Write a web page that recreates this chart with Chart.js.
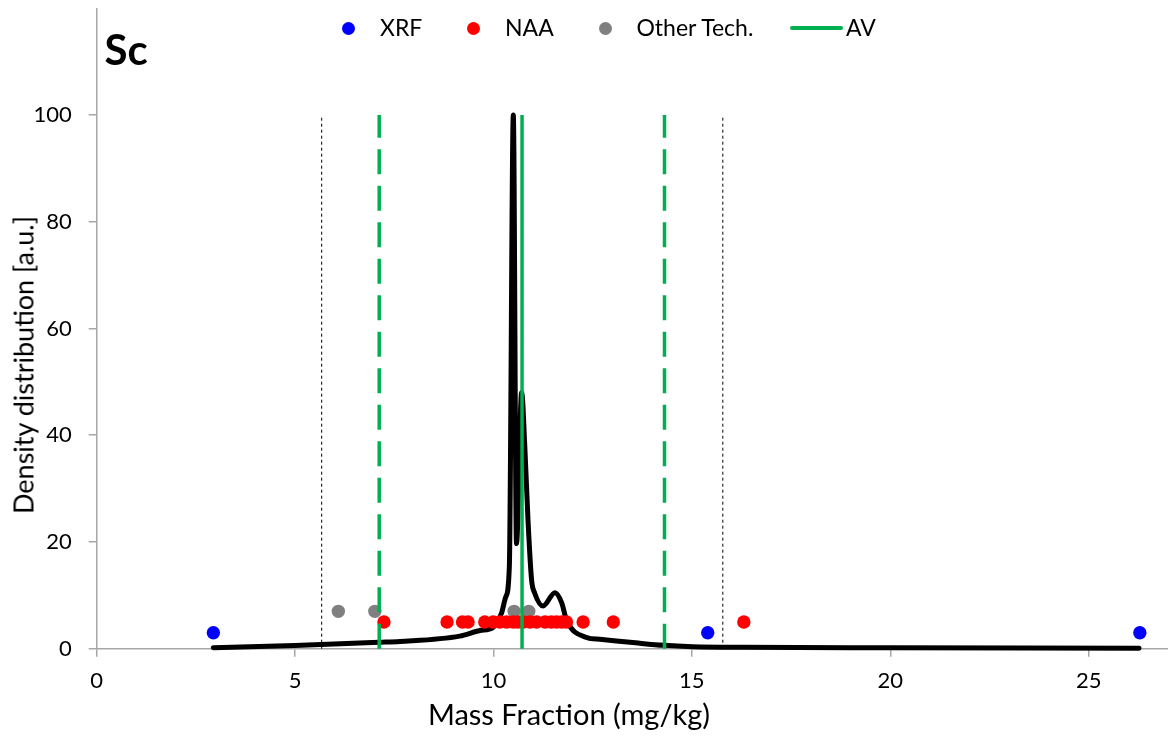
<!DOCTYPE html>
<html>
<head>
<meta charset="utf-8">
<title>Sc – density distribution</title>
<script src="https://cdn.jsdelivr.net/npm/chart.js@4.4.1/dist/chart.umd.min.js"></script>
<style>
  html, body { margin: 0; padding: 0; background: #fff; }
  #wrap { position: relative; width: 1168px; height: 736px; overflow: hidden;
          font-family: Lato, "DejaVu Sans", sans-serif; color: #000; }
  #c { position: absolute; left: 0; top: 0; }
  .txt { position: absolute; white-space: nowrap; line-height: 1; }
  .panel { left: 104.5px; top: 28px; font-size: 42px; font-weight: 700; }
  .lg { top: 15.9px; font-size: 23px; }
  .dot { position: absolute; width: 13px; height: 13px; border-radius: 50%; top: 21.5px; }
  .av-key { position: absolute; height: 3.5px; top: 26.3px; background: #00b050; border-radius: 2px; }
  .xtitle { left: 569px; top: 699.3px; font-size: 29px; transform: translateX(-50%); }
  .ytitle { left: 23px; top: 365px; font-size: 27px; transform: translate(-50%, -50%) rotate(-90deg); }
</style>
</head>
<body>
<div id="wrap">
  <canvas id="c" width="1168" height="736"></canvas>

  <div class="txt panel">Sc</div>

  <!-- legend -->
  <div class="dot" style="left:341.8px;background:#0000ff"></div>
  <div class="txt lg" style="left:380px">XRF</div>
  <div class="dot" style="left:466.8px;background:#ff0000"></div>
  <div class="txt lg" style="left:505px">NAA</div>
  <div class="dot" style="left:598.5px;background:#808080"></div>
  <div class="txt lg" style="left:636.5px">Other Tech.</div>
  <div class="av-key" style="left:790px;width:53px"></div>
  <div class="txt lg" style="left:846px">AV</div>

  <div class="txt xtitle">Mass Fraction (mg/kg)</div>
  <div class="txt ytitle">Density distribution [a.u.]</div>
</div>

<script>
// Reported results, mass fraction of Sc in mg/kg, grouped by technique
const xrfValues   = [2.94, 15.40, 26.29];
const naaValues   = [7.24, 8.83, 9.22, 9.36, 9.78, 9.99, 10.16, 10.33, 10.50, 10.62, 10.75,
                     10.92, 11.09, 11.30, 11.46, 11.59, 11.72, 11.84, 12.26, 13.02, 16.31];
const otherValues = [6.09, 7.01, 10.52, 10.89];

// Marker heights used to stack the technique rows above the axis
const xrfRow = 3;
const naaRow = 5;
const otherRow = 7;

// Kernel density of all results (arbitrary units)
const densityX = [2.94, 5.0, 7.12, 7.64, 9.15, 9.66, 9.99, 10.2, 10.31, 10.4, 10.5, 10.58,
                  10.71, 10.79, 10.87, 10.96, 11.04, 11.25, 11.55, 11.72, 11.84, 12.35, 12.68,
                  13.58, 14.3, 15.02, 16.28, 20.0, 26.27];
const densityY = [0.2, 0.6, 1.2, 1.35, 2.35, 3.4, 4.0, 6.6, 9.7, 15.4, 100, 19.7,
                  48, 37.8, 24.1, 12.9, 10.4, 8.0, 10.5, 8.6, 5.4, 2.1, 1.76,
                  1.1, 0.63, 0.38, 0.26, 0.17, 0.1];

// Assigned value with its uncertainty band and the acceptance limits
const assignedValue = 10.72;
const uncertaintyBounds = [7.12, 14.31];
const limitBounds = [5.67, 15.78];
const markerLineTop = 100;

// Axis ranges and tick steps
const xRange = [0, 27];
const xStep = 5;
const yRange = [0, 120];
const yStep = 20;
const yLastLabel = 100;

const row = (values, level) => values.map(x => ({ x, y: level }));
const vertical = (x) => [{ x, y: 0 }, { x, y: markerLineTop }];
const curve = densityX.map((x, i) => ({ x, y: densityY[i] }));

const green = '#00b050';
const axisGrey = '#a6a6a6';
const FONT = 'Lato, "DejaVu Sans", sans-serif';

const lineSet = (label, data, color, width, dash, order) => ({
  label, data, showLine: true, borderColor: color, borderWidth: width,
  borderDash: dash, pointRadius: 0, pointHoverRadius: 0, order, clip: false
});
const pointSet = (label, data, color) => ({
  label, data, pointRadius: 6.7, pointHoverRadius: 6.7, pointBorderWidth: 0,
  pointBackgroundColor: color, backgroundColor: color, borderColor: color, order: 2
});

new Chart(document.getElementById('c'), {
  type: 'scatter',
  data: {
    datasets: [
      lineSet('AV', vertical(assignedValue), green, 3.5, [], 1),
      lineSet('AV - U', vertical(uncertaintyBounds[0]), green, 3.5, [25, 11.5], 1),
      lineSet('AV + U', vertical(uncertaintyBounds[1]), green, 3.5, [25, 11.5], 1),
      lineSet('Lower limit', vertical(limitBounds[0]), '#000', 1, [3, 3], 1),
      lineSet('Upper limit', vertical(limitBounds[1]), '#000', 1, [3, 3], 1),
      pointSet('XRF', row(xrfValues, xrfRow), '#0000ff'),
      pointSet('NAA', row(naaValues, naaRow), '#ff0000'),
      pointSet('Other Tech.', row(otherValues, otherRow), '#808080'),
      Object.assign(lineSet('Density', curve, '#000', 5, [], 3), {
        cubicInterpolationMode: 'monotone', borderCapStyle: 'round', borderJoinStyle: 'round'
      })
    ]
  },
  options: {
    responsive: false,
    animation: false,
    events: [],
    layout: { autoPadding: false, padding: { top: 8.3, right: 0, bottom: 0, left: 0 } },
    plugins: { legend: { display: false }, tooltip: { enabled: false }, title: { display: false } },
    scales: {
      x: {
        type: 'linear', min: xRange[0], max: xRange[1],
        border: { display: true, color: axisGrey, width: 1.5 },
        grid: { drawOnChartArea: false, drawTicks: true, tickLength: 8, color: axisGrey, lineWidth: 1.5 },
        ticks: { stepSize: xStep, includeBounds: false, padding: 11, color: '#000', maxRotation: 0,
                 font: { family: FONT, size: 22 } },
        afterFit: s => { s.height = 87.3; s.paddingLeft = 0; s.paddingRight = 0; }
      },
      y: {
        type: 'linear', min: yRange[0], max: yRange[1],
        border: { display: true, color: axisGrey, width: 1.5 },
        grid: { drawOnChartArea: false, drawTicks: true, tickLength: 8, color: axisGrey, lineWidth: 1.5 },
        ticks: { stepSize: yStep, includeBounds: false, padding: 17, color: '#000',
                 font: { family: FONT, size: 22 } },
        afterBuildTicks: s => { s.ticks = s.ticks.filter(t => t.value <= yLastLabel); },
        afterFit: s => { s.width = 96.7; s.paddingTop = 0; s.paddingBottom = 0; }
      }
    }
  }
});
</script>
</body>
</html>
